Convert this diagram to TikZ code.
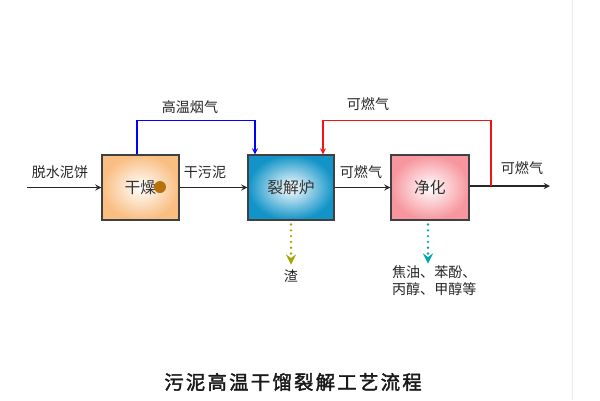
\documentclass[tikz,border=0pt]{standalone}
\usepackage{fontspec}
\setmainfont{Liberation Serif}
\newfontfamily\cjk{Noto Sans CJK SC}
\usetikzlibrary{arrows,positioning,calc}
\definecolor{dryc}{RGB}{249,190,130}
\definecolor{pyroc}{RGB}{18,148,200}
\definecolor{purec}{RGB}{247,150,158}
\definecolor{dotc}{RGB}{184,112,10}
\definecolor{slagc}{RGB}{165,165,0}
\definecolor{tarc}{RGB}{0,165,178}
\definecolor{gasc}{RGB}{240,20,20}
\tikzset{%
	proc/.style={draw=black!75,semithick,minimum height=1.3cm,inner sep=0pt,font=\cjk\fontsize{9}{10}\selectfont,text=black!80},
	lbl/.style={font=\cjk\fontsize{8}{9.5}\selectfont,text=black!85,inner sep=1pt},
	flow/.style={->,>=stealth,semithick,black!85},
	recyc/.style={->,>=stealth,semithick},
	waste/.style={->,>=stealth,line width=1.5pt,dash pattern=on 0pt off 3.3pt,line cap=round},
}

\begin{document}
\begin{tikzpicture}[x=0.02cm,y=-0.02cm]
				\useasboundingbox (0,0) rectangle (600,400);
				\fill[white] (0,0) rectangle (600,400);
				\draw[black!8] (572,0) -- (572,400);
				
				%boxes
				\node[proc,minimum width=1.54cm,inner color=white,outer color=dryc] (dry) at (140.5,187.5) {干燥};
				\node[proc,minimum width=1.72cm,inner color=white,outer color=pyroc] (pyro) at (291,187.5) {裂解炉};
				\node[proc,minimum width=1.56cm,inner color=white,outer color=purec] (pure) at (430,187.5) {净化};
				\fill[dotc] (160,187) circle (6);
				
				%main line
				\coordinate (in) at (27,187.5);
				\coordinate (out) at (550,186);
				\draw[flow] (in) -- (dry);
				\draw[flow] (dry) -- (pyro);
				\draw[flow] (pyro) -- (pure);
				\draw[flow] (pure.east |- out) -- (out);
				\node[lbl] (cake) at (60,172) {脱水泥饼};
				\node[lbl] (dsludge) at (205,172) {干污泥};
				\node[lbl] (gas1) at (361,172) {可燃气};
				\node[lbl] (gas2) at (522,168) {可燃气};
				
				%flue gas and return gas
				\draw[recyc,blue] ($(dry.north)+(-3.5,0)$) -- ++(0,-34) -| ($(pyro.north)+(-36,0)$);
				\node[lbl] (flue) at (190,107) {高温烟气};
				\coordinate (split) at (491,186);
				\draw[recyc,gasc] (split) |- ($(pyro.north)+(32,-34)$) -- ($(pyro.north)+(32,0)$);
				\node[lbl] (gas3) at (368,104) {可燃气};
				
				%by-products
				\draw[waste,slagc] ($(pyro.south)+(0,4)$) -- ++(0,40);
				\node[lbl] (slag) at (291,276) {渣};
				\draw[waste,tarc] ($(pure.south)+(-2,4)$) -- ++(0,39);
				\node[lbl,anchor=north west,align=left] (tar) at (390,264) {焦油、苯酚、\\丙醇、甲醇等};
				
				%title
				\node[font=\cjk\fontsize{11}{12}\selectfont\addfontfeature{LetterSpace=12,FakeBold=2},text=black!90] (title) at (293,382) {污泥高温干馏裂解工艺流程};
			\end{tikzpicture}
\end{document}
